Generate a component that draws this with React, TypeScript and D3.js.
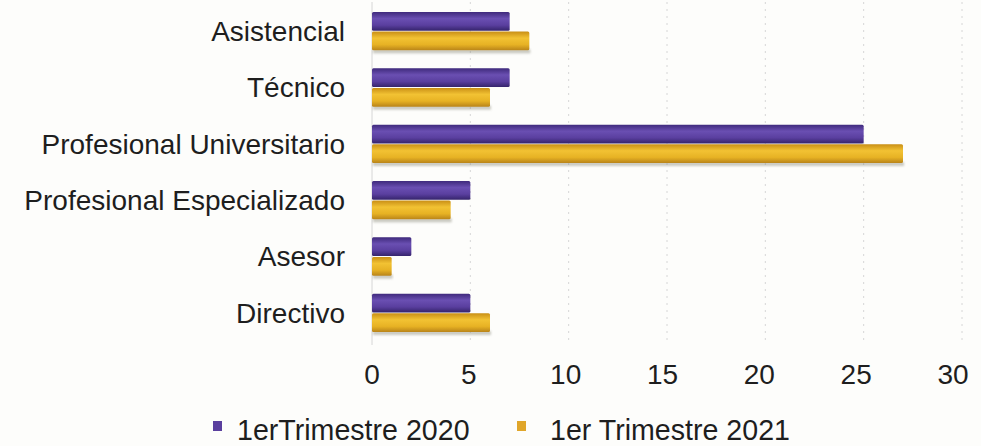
import React from "react";
import * as d3 from "d3";

// Staff counts per job level, first quarter of each year
const categories = [
  "Asistencial",
  "Técnico",
  "Profesional Universitario",
  "Profesional Especializado",
  "Asesor",
  "Directivo",
];
const series = ["1erTrimestre 2020", "1er Trimestre 2021"];
const values2020 = [7, 7, 25, 5, 2, 5];
const values2021 = [8, 6, 27, 4, 1, 6];
const xTicks = [0, 5, 10, 15, 20, 25, 30];

const W = 981;
const H = 446;
const FONT = "'Liberation Sans', Arial, Helvetica, sans-serif";
const TEXT = "#1e1e1e";

export default function App() {
  const x = d3.scaleLinear().domain([0, 30]).range([372, 962]);
  const y = d3
    .scaleBand<string>()
    .domain(categories)
    .range([3, 341])
    .paddingInner(0.32)
    .paddingOuter(0.16);
  const sub = d3
    .scaleBand<string>()
    .domain(series)
    .range([0, y.bandwidth()])
    .paddingInner(0.04);

  const seriesValues = [values2020, values2021];
  const fills = ["url(#gPurple)", "url(#gGold)"];
  const swatch = ["#5a3f9e", "#e0a62a"];
  const legendX = [213, 517];

  return (
    <svg
      width={W}
      height={H}
      style={{ position: "absolute", left: 0, top: 0, background: "#fdfdfb" }}
    >
      <defs>
        <linearGradient id="gPurple" x1="0" y1="0" x2="0" y2="1">
          <stop offset="0" stopColor="#3f2a7c" />
          <stop offset="0.35" stopColor="#6a4fb2" />
          <stop offset="0.7" stopColor="#5a3f9f" />
          <stop offset="1" stopColor="#35246b" />
        </linearGradient>
        <linearGradient id="gGold" x1="0" y1="0" x2="0" y2="1">
          <stop offset="0" stopColor="#c98f16" />
          <stop offset="0.35" stopColor="#f2c233" />
          <stop offset="0.7" stopColor="#e7b224" />
          <stop offset="1" stopColor="#b98419" />
        </linearGradient>
        <filter id="soft" x="-5%" y="-50%" width="110%" height="200%">
          <feGaussianBlur stdDeviation="1.2" />
        </filter>
      </defs>

      {/* gridlines */}
      {xTicks.map((t) => (
        <line
          key={"g" + t}
          x1={x(t)}
          x2={x(t)}
          y1={2}
          y2={345}
          stroke="#d6d6d6"
          strokeWidth={1}
          strokeDasharray={t === 0 ? undefined : "2 5"}
        />
      ))}

      {/* soft shadow under each bar pair */}
      {categories.map((c, i) => (
        <rect
          key={"s" + c}
          x={x(0) + 1}
          y={y(c)! + y.bandwidth() - 1}
          width={x(values2021[i]) - x(0)}
          height={4}
          fill="#8a8a7a"
          opacity={0.45}
          filter="url(#soft)"
        />
      ))}

      {/* bars */}
      {categories.map((c, i) => (
        <g key={c} transform={`translate(0,${y(c)})`}>
          {series.map((s, k) => (
            <rect
              key={s}
              x={x(0)}
              y={sub(s)}
              width={x(seriesValues[k][i]) - x(0)}
              height={sub.bandwidth()}
              fill={fills[k]}
              rx={1.5}
            />
          ))}
        </g>
      ))}

      {/* category labels */}
      {categories.map((c) => (
        <text
          key={"l" + c}
          x={345}
          y={y(c)! + y.bandwidth() / 2}
          dy="0.35em"
          textAnchor="end"
          fontFamily={FONT}
          fontSize={28}
          fill={TEXT}
        >
          {c}
        </text>
      ))}

      {/* x tick labels */}
      {xTicks.map((t) => (
        <text
          key={"t" + t}
          x={x(t) - t * 0.3}
          y={384}
          textAnchor="middle"
          fontFamily={FONT}
          fontSize={28}
          fill={TEXT}
        >
          {t}
        </text>
      ))}

      {/* legend */}
      {series.map((s, k) => (
        <g key={"lg" + s} transform={`translate(${legendX[k]},0)`}>
          <rect x={0} y={421} width={9} height={10} fill={swatch[k]} />
          <text
            x={k === 0 ? 24 : 33}
            y={440}
            fontFamily={FONT}
            fontSize={28.6}
            fill={TEXT}
          >
            {s}
          </text>
        </g>
      ))}
    </svg>
  );
}
